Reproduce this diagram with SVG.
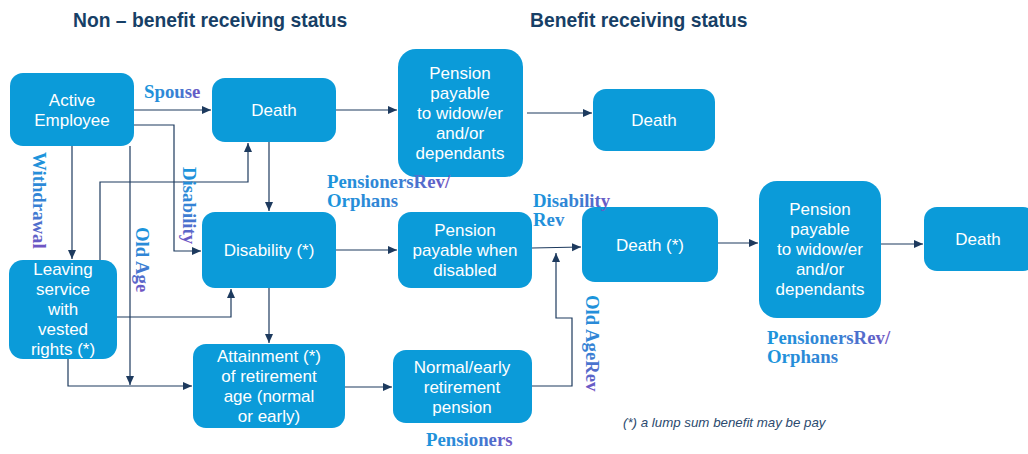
<svg xmlns="http://www.w3.org/2000/svg" width="1028" height="454" viewBox="0 0 1028 454">
<defs>
<linearGradient id="lg" x1="0" y1="0" x2="1" y2="0">
<stop offset="0" stop-color="#1b95dc"/>
<stop offset="0.6" stop-color="#3a7fd3"/>
<stop offset="1" stop-color="#7253c2"/>
</linearGradient>
<marker id="ah" markerUnits="userSpaceOnUse" markerWidth="10" markerHeight="9" refX="9" refY="4" orient="auto">
<path d="M0,0 L9,4 L0,8 z" fill="#1d3a5e"/>
</marker>
<style>
.n{fill:#0b9bd9}
.t{font-family:"Liberation Sans",Arial,sans-serif;font-size:17px;fill:#ffffff;text-anchor:middle}
.h{font-family:"Liberation Sans",Arial,sans-serif;font-size:19.3px;font-weight:bold;fill:#173f66}
.l{font-family:"Liberation Serif","Times New Roman",serif;font-size:18.8px;font-weight:bold;fill:url(#lg)}
.c{fill:none;stroke:#1d3a5e;stroke-width:1.2;marker-end:url(#ah)}
.f{font-family:"Liberation Sans",Arial,sans-serif;font-size:13.3px;font-style:italic;fill:#2b4a6e}
</style>
</defs>
<rect width="1028" height="454" fill="#ffffff"/>
<text class="h" x="73" y="27">Non – benefit receiving status</text>
<text class="h" x="530" y="27">Benefit receiving status</text>

<g id="connectors">
<path class="c" d="M134,110 H211"/>
<path class="c" d="M134,125 H174 V251 H201"/>
<path class="c" d="M130,146 V385"/>
<path class="c" d="M72,146 V259"/>
<path class="c" d="M100,260 V182 H248 V143"/>
<path class="c" d="M117,317 H231 V289"/>
<path class="c" d="M68,359 V386 H192"/>
<path class="c" d="M269,142 V211"/>
<path class="c" d="M269,288 V343"/>
<path class="c" d="M336,110 H397"/>
<path class="c" d="M527,113 H592"/>
<path class="c" d="M336,250 H397"/>
<path class="c" d="M532,248 L581,247"/>
<path class="c" d="M532,386 H572 V318 H556 V253"/>
<path class="c" d="M345,387 H392"/>
<path class="c" d="M718,243 H758"/>
<path class="c" d="M881,244 H923"/>
</g>

<g id="active-employee">
<rect class="n" x="10" y="73" width="124" height="73" rx="13"/>
<text class="t" x="72" y="106">Active<tspan x="72" dy="20">Employee</tspan></text>
</g>
<g id="death-1">
<rect class="n" x="212" y="78" width="124" height="64" rx="13"/>
<text class="t" x="274" y="116">Death</text>
</g>
<g id="pension-widow-1">
<rect class="n" x="398" y="49" width="125" height="128" rx="18"/>
<text class="t" x="460" y="79">Pension<tspan x="460" dy="20">payable</tspan><tspan x="460" dy="20">to widow/er</tspan><tspan x="460" dy="20">and/or</tspan><tspan x="460" dy="20">dependants</tspan></text>
</g>
<g id="death-2">
<rect class="n" x="593" y="89" width="122" height="62" rx="13"/>
<text class="t" x="654" y="126">Death</text>
</g>
<g id="leaving-service">
<rect class="n" x="9" y="260" width="108" height="99" rx="14"/>
<text class="t" x="63" y="275">Leaving<tspan x="63" dy="20">service</tspan><tspan x="63" dy="20">with</tspan><tspan x="63" dy="20">vested</tspan><tspan x="63" dy="20">rights (*)</tspan></text>
</g>
<g id="disability">
<rect class="n" x="202" y="212" width="134" height="76" rx="13"/>
<text class="t" x="269" y="256">Disability (*)</text>
</g>
<g id="pension-disabled">
<rect class="n" x="398" y="212" width="134" height="76" rx="13"/>
<text class="t" x="465" y="236">Pension<tspan x="465" dy="20">payable when</tspan><tspan x="465" dy="20">disabled</tspan></text>
</g>
<g id="attainment">
<rect class="n" x="193" y="344" width="152" height="84" rx="13"/>
<text class="t" x="269" y="362">Attainment (*)<tspan x="269" dy="20">of retirement</tspan><tspan x="269" dy="20">age (normal</tspan><tspan x="269" dy="20">or early)</tspan></text>
</g>
<g id="normal-retirement">
<rect class="n" x="393" y="350" width="139" height="73" rx="13"/>
<text class="t" x="462" y="373">Normal/early<tspan x="462" dy="20">retirement</tspan><tspan x="462" dy="20">pension</tspan></text>
</g>
<g id="death-star">
<rect class="n" x="582" y="207" width="136" height="75" rx="13"/>
<text class="t" x="650" y="251">Death (*)</text>
</g>
<g id="pension-widow-2">
<rect class="n" x="759" y="181" width="122" height="137" rx="18"/>
<text class="t" x="820" y="215">Pension<tspan x="820" dy="20">payable</tspan><tspan x="820" dy="20">to widow/er</tspan><tspan x="820" dy="20">and/or</tspan><tspan x="820" dy="20">dependants</tspan></text>
</g>
<g id="death-3">
<rect class="n" x="924" y="207" width="112" height="64" rx="13"/>
<text class="t" x="978" y="245">Death</text>
</g>

<g id="labels">
<text class="l" x="144" y="98">Spouse</text>
<text class="l" transform="translate(33,152) rotate(90)" x="0" y="0">Withdrawal</text>
<text class="l" transform="translate(183,167) rotate(90)" x="0" y="0">Disability</text>
<text class="l" transform="translate(136,227) rotate(90)" x="0" y="0">Old Age</text>
<text class="l" x="327" y="188">PensionersRev/<tspan x="327" dy="19">Orphans</tspan></text>
<text class="l" x="533" y="207">Disability<tspan x="533" dy="19">Rev</tspan></text>
<text class="l" transform="translate(586,295) rotate(90)" x="0" y="0">Old AgeRev</text>
<text class="l" x="426" y="446">Pensioners</text>
<text class="l" x="767" y="344">PensionersRev/<tspan x="767" dy="19">Orphans</tspan></text>
<text class="f" x="623" y="427">(*) a lump sum benefit may be pay</text>
</g>
</svg>
